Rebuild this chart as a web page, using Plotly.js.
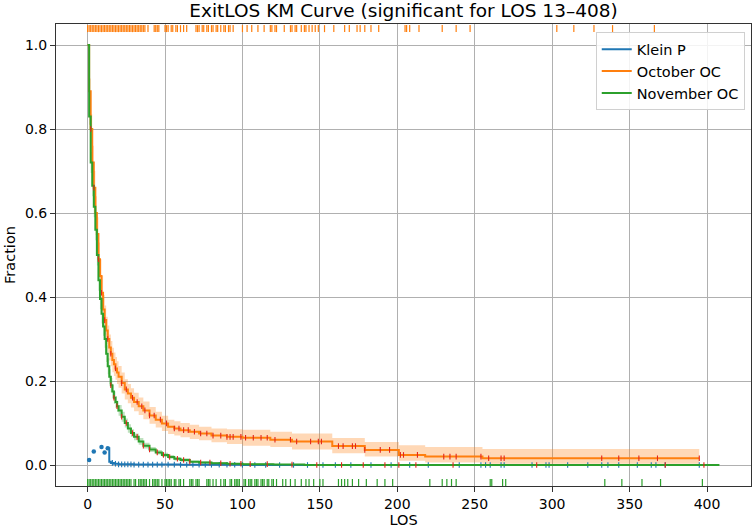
<!DOCTYPE html>
<html>
<head>
<meta charset="utf-8">
<script src="https://cdn.plot.ly/plotly-3.0.1.min.js"></script>
<style>
  html, body { margin: 0; padding: 0; background: #fff; }
  #chart { width: 756px; height: 531px; }
</style>
</head>
<body>
<div id="chart"></div>
<script>
// Kaplan–Meier survival of exit length of stay (LOS) for three cohorts.

// October OC: step curve with confidence band
const octT     = [0, 1, 2, 3, 4, 5, 6, 7, 8, 9, 10, 11, 12, 13, 14, 15, 16, 17, 18, 19, 20, 22, 24, 26, 28, 30, 33, 36, 40, 44, 48, 52, 56, 60, 66, 72, 80, 90, 100, 118, 132, 158, 179, 201, 218, 255, 395];
const octS     = [1.0, 0.89, 0.80, 0.72, 0.66, 0.60, 0.55, 0.49, 0.45, 0.41, 0.37, 0.345, 0.32, 0.30, 0.28, 0.265, 0.25, 0.24, 0.23, 0.22, 0.21, 0.195, 0.18, 0.17, 0.16, 0.15, 0.14, 0.13, 0.118, 0.108, 0.099, 0.091, 0.087, 0.083, 0.079, 0.075, 0.070, 0.067, 0.065, 0.060, 0.056, 0.045, 0.036, 0.024, 0.020, 0.016, 0.016];
const octLower = [1.0, 0.86, 0.765, 0.68, 0.62, 0.56, 0.51, 0.45, 0.41, 0.37, 0.335, 0.31, 0.287, 0.268, 0.249, 0.235, 0.221, 0.212, 0.203, 0.193, 0.184, 0.17, 0.156, 0.147, 0.137, 0.128, 0.119, 0.109, 0.098, 0.089, 0.081, 0.074, 0.070, 0.066, 0.062, 0.059, 0.054, 0.050, 0.046, 0.043, 0.037, 0.028, 0.020, 0.010, 0.006, 0.003, 0.003];
const octUpper = [1.0, 0.92, 0.835, 0.76, 0.70, 0.64, 0.59, 0.53, 0.49, 0.45, 0.405, 0.38, 0.353, 0.332, 0.311, 0.295, 0.279, 0.268, 0.257, 0.247, 0.236, 0.22, 0.204, 0.193, 0.183, 0.172, 0.161, 0.151, 0.138, 0.127, 0.117, 0.108, 0.104, 0.100, 0.096, 0.091, 0.087, 0.085, 0.084, 0.079, 0.075, 0.064, 0.055, 0.047, 0.043, 0.038, 0.038];
const octCensor = [2, 4, 7, 9, 11, 13, 15, 18, 22, 25, 29, 32, 35, 37, 40, 43, 47, 51, 56, 59, 62, 65, 69, 73, 77, 81, 86, 90, 92, 94, 99, 102, 107, 112, 116, 121, 131, 135, 144, 149, 151, 162, 165, 171, 173, 179, 189, 195, 202, 204, 213, 230, 234, 238, 254, 259, 267, 269, 332, 343, 356, 368, 395];

// November OC
const novT     = [0, 1, 2, 3, 4, 5, 6, 7, 8, 9, 10, 11, 12, 13, 14, 15, 16, 17, 18, 19, 20, 22, 24, 26, 28, 30, 33, 36, 40, 44, 48, 52, 56, 60, 66, 72, 80, 90, 100, 120, 140, 408];
const novS     = [1.0, 0.83, 0.72, 0.665, 0.615, 0.56, 0.50, 0.44, 0.395, 0.36, 0.33, 0.30, 0.265, 0.235, 0.21, 0.19, 0.175, 0.16, 0.15, 0.14, 0.13, 0.115, 0.10, 0.087, 0.076, 0.067, 0.056, 0.046, 0.037, 0.030, 0.024, 0.019, 0.015, 0.012, 0.008, 0.006, 0.004, 0.003, 0.002, 0.001, 0.0, 0.0];
const novLower = [1.0, 0.81, 0.695, 0.64, 0.59, 0.535, 0.475, 0.415, 0.371, 0.337, 0.308, 0.279, 0.245, 0.216, 0.192, 0.173, 0.159, 0.145, 0.136, 0.127, 0.117, 0.103, 0.089, 0.077, 0.067, 0.059, 0.048, 0.039, 0.031, 0.025, 0.019, 0.015, 0.011, 0.008, 0.005, 0.003, 0.002, 0.001, 0.0, 0.0, 0.0, 0.0];
const novUpper = [1.0, 0.85, 0.745, 0.69, 0.64, 0.585, 0.525, 0.465, 0.419, 0.383, 0.352, 0.321, 0.285, 0.254, 0.228, 0.207, 0.191, 0.175, 0.164, 0.153, 0.143, 0.127, 0.111, 0.097, 0.085, 0.075, 0.064, 0.053, 0.043, 0.036, 0.029, 0.024, 0.019, 0.016, 0.011, 0.009, 0.007, 0.005, 0.004, 0.002, 0.001, 0.001];
const novCensor = [15, 17, 19, 22, 25, 29, 32, 36, 40, 45, 49, 53, 58, 62, 66, 73, 79, 86, 92, 99, 105, 116, 132, 148, 164, 178, 192, 201, 212, 236, 290, 373, 398];

// Klein P: isolated early points, then the curve from LOS 13 on
const kleinDotT = [1, 4, 9, 11, 13];
const kleinDotS = [0.012, 0.032, 0.043, 0.030, 0.040];
const kleinT    = [13, 14, 15, 17, 20, 30, 60, 100, 400];
const kleinS    = [0.040, 0.008, 0.005, 0.003, 0.0015, 0.001, 0.0005, 0.0, 0.0];
const kleinCensor = [16, 18, 20, 22, 24, 26, 28, 30, 33, 36, 39, 42, 45, 48, 52, 56, 60, 64, 68, 72, 76, 80, 85, 90, 95, 100, 108, 115, 124, 133, 142, 152, 160, 170, 183, 196, 208, 220, 240, 254, 257, 260, 267, 269, 287, 296, 298, 310, 323, 332, 336, 343, 355, 364, 367, 373, 395];

// Rug ticks: October OC along the top, November OC along the bottom
const octRug = [0, 1, 2, 3, 4, 5, 6, 7, 8, 9, 10, 11, 12, 13, 14, 15, 16, 17, 18, 19, 20, 21, 22, 23, 24, 25, 26, 27, 28, 29, 30, 31, 32, 33, 34, 35, 36, 37, 39, 43, 44, 45, 46, 50, 51, 52, 54, 55, 57, 58, 60, 62, 64, 70, 71, 72, 74, 75, 77, 78, 80, 81, 83, 84, 86, 88, 89, 91, 92, 94, 100, 103, 106, 110, 114, 118, 119, 121, 122, 127, 131, 132, 134, 135, 138, 140, 141, 143, 145, 147, 149, 153, 159, 166, 169, 174, 176, 179, 183, 188, 205, 206, 208, 214, 229, 238, 247, 303, 314, 327, 339, 366];
const novRug = [0, 1, 2, 3, 4, 5, 6, 7, 8, 9, 10, 11, 12, 13, 14, 15, 16, 17, 18, 19, 20, 21, 22, 23, 24, 25, 26, 27, 28, 30, 31, 33, 34, 35, 36, 37, 38, 40, 42, 43, 44, 45, 46, 48, 50, 51, 52, 53, 54, 56, 57, 59, 60, 62, 66, 67, 68, 70, 71, 72, 77, 78, 79, 81, 83, 86, 88, 89, 92, 93, 95, 96, 97, 98, 101, 102, 104, 105, 106, 108, 109, 110, 112, 113, 114, 116, 117, 119, 120, 122, 126, 128, 131, 134, 138, 141, 143, 146, 150, 152, 162, 164, 166, 168, 171, 175, 180, 187, 192, 197, 221, 229, 232, 235, 238, 260, 261, 268, 270, 334, 345, 358, 370, 397];

const xTicks = [0, 50, 100, 150, 200, 250, 300, 350, 400];
const yTicks = [0.0, 0.2, 0.4, 0.6, 0.8, 1.0];

const BLUE = '#1f77b4', ORANGE = '#ff7f0e', GREEN = '#2ca02c', CENSOR = '#e3261c';

// value of a step curve at time t (right-continuous)
function stepAt(ts, ss, t) {
  let v = ss[0];
  for (let i = 0; i < ts.length; i++) { if (ts[i] <= t) v = ss[i]; else break; }
  return v;
}

function band(ts, lo, hi, fill) {
  return [
    { x: ts, y: lo, mode: 'lines', line: { width: 0, shape: 'hv' }, hoverinfo: 'skip', showlegend: false },
    { x: ts, y: hi, mode: 'lines', line: { width: 0, shape: 'hv' }, fill: 'tonexty', fillcolor: fill, hoverinfo: 'skip', showlegend: false }
  ];
}

function ticks(ts, ss, times, color) {
  return {
    x: times, y: times.map(t => stepAt(ts, ss, t)), mode: 'markers', showlegend: false, hoverinfo: 'skip',
    marker: { symbol: 'line-ns-open', size: 4, color: color, line: { color: color, width: 1.1 } }
  };
}

function rug(times, level, color) {
  return {
    x: times, y: times.map(() => level), mode: 'markers', showlegend: false, hoverinfo: 'skip',
    marker: { symbol: 'line-ns-open', size: 5, color: color, line: { color: color, width: 1.2 } }
  };
}

const traces = [
  ...band(octT, octLower, octUpper, 'rgba(255,127,14,0.3)'),
  ...band(novT, novLower, novUpper, 'rgba(44,160,44,0.3)'),
  { x: kleinT, y: kleinS, mode: 'lines', name: 'Klein P', line: { color: BLUE, width: 2, shape: 'hv' } },
  { x: kleinDotT, y: kleinDotS, mode: 'markers', showlegend: false, marker: { color: BLUE, size: 4.5 } },
  ticks(kleinT, kleinS, kleinCensor, BLUE),
  { x: octT, y: octS, mode: 'lines', name: 'October OC', line: { color: ORANGE, width: 2, shape: 'hv' } },
  { x: novT, y: novS, mode: 'lines', name: 'November OC', line: { color: GREEN, width: 2, shape: 'hv' } },
  ticks(octT, octS, octCensor, CENSOR),
  ticks(novT, novS, novCensor, CENSOR),
  rug(octRug, 1.039, ORANGE),
  rug(novRug, -0.0417, GREEN)
];

const axisCommon = {
  showgrid: true, gridcolor: '#b0b0b0', gridwidth: 1, zeroline: false,
  showline: true, linecolor: '#333', linewidth: 1, mirror: true,
  ticks: 'outside', ticklen: 5, tickcolor: '#333', tickwidth: 1,
  tickfont: { family: 'DejaVu Sans', size: 14, color: '#000' }
};

const layout = {
  width: 756, height: 531,
  margin: { l: 56, r: 5, t: 24, b: 45 },
  paper_bgcolor: '#fff', plot_bgcolor: '#fff',
  font: { family: 'DejaVu Sans', color: '#000' },
  title: { text: 'ExitLOS KM Curve (significant for LOS 13–408)', font: { family: 'DejaVu Sans', size: 18.5, color: '#000' },
           xref: 'paper', x: 0.5, xanchor: 'center', y: 0.981, yanchor: 'middle' },
  xaxis: Object.assign({}, axisCommon, {
    range: [-20.4, 428.4], tickvals: xTicks, ticktext: xTicks.map(String),
    title: { text: 'LOS', font: { size: 14.5, family: 'DejaVu Sans' }, standoff: 3 }
  }),
  yaxis: Object.assign({}, axisCommon, {
    range: [-0.05, 1.05], tickvals: yTicks, ticktext: yTicks.map(v => v.toFixed(1)),
    title: { text: 'Fraction', font: { size: 14.5, family: 'DejaVu Sans' }, standoff: 5 }
  }),
  legend: {
    x: 0.991, y: 0.982, xanchor: 'right', yanchor: 'top', traceorder: 'normal',
    bgcolor: 'rgba(255,255,255,0.85)', bordercolor: '#d0d0d0', borderwidth: 1,
    font: { family: 'DejaVu Sans', size: 14.5, color: '#000' }
  },
  showlegend: true
};

Plotly.newPlot('chart', traces, layout, { displayModeBar: false, staticPlot: true });
</script>
</body>
</html>
